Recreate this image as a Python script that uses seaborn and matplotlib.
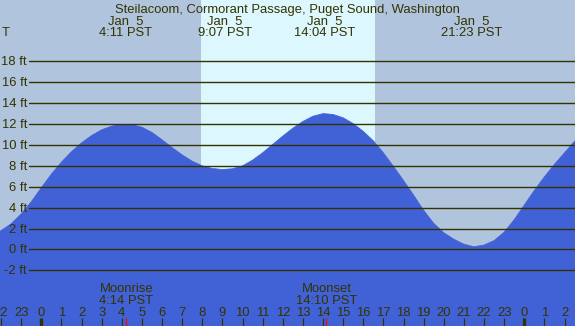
import matplotlib
matplotlib.use("Agg")
import matplotlib.pyplot as plt
import matplotlib.transforms as mtransforms
import seaborn as sns
import pandas as pd

# ---------------- data ----------------
title = "Steilacoom, Cormorant Passage, Puget Sound, Washington"

tide_hours = [-2.05, -1.5, -1.0, -0.5, 0.0, 0.5, 1.0, 1.5, 2.0, 2.5, 3.0, 3.5, 4.0,
              4.5, 5.0, 5.5, 6.0, 6.5, 7.0, 7.5, 8.0, 8.5, 9.0, 9.5, 10.0, 10.5,
              11.0, 11.5, 12.0, 12.5, 13.0, 13.5, 14.0, 14.5, 15.0, 15.5, 16.0, 16.5,
              17.0, 17.5, 18.0, 18.5, 19.0, 19.5, 20.0, 20.5, 21.0, 21.5, 22.0,
              22.5, 23.0, 23.5, 24.0, 24.5, 25.0, 25.5, 26.0, 26.52]
tide_ft = [1.74, 2.45, 3.4, 4.55, 5.9, 7.2, 8.35, 9.35, 10.2, 10.9, 11.45, 11.8, 11.97,
           11.95, 11.7, 11.2, 10.5, 9.75, 9.05, 8.45, 8.0, 7.75, 7.65, 7.72, 8.0, 8.55,
           9.25, 10.05, 10.85, 11.6, 12.25, 12.75, 13.0, 12.92, 12.6, 12.05, 11.3, 10.4,
           9.25, 7.95, 6.6, 5.2, 3.75, 2.5, 1.6, 0.98, 0.5, 0.26, 0.42,
           0.85, 1.65, 2.85, 4.25, 5.65, 6.95, 8.15, 9.25, 10.4]

extreme_hours = [4.18, 9.12, 14.07, 21.38]
extreme_dates = ["Jan  5", "Jan  5", "Jan  5", "Jan  5"]
extreme_times = ["4:11 PST", "9:07 PST", "14:04 PST", "21:23 PST"]

moon_hours = [4.23, 14.17]
moon_names = ["Moonrise", "Moonset"]
moon_times = ["4:14 PST", "14:10 PST"]

sunrise_hour = 7.94
sunset_hour = 16.58

ytick_values = [-2, 0, 2, 4, 6, 8, 10, 12, 14, 16, 18]
hour_ticks = list(range(-2, 27))
hour_labels = [str(h % 24) for h in hour_ticks]

# ---------------- style ----------------
W, H = 575, 326
night = "#b0c4de"
day = "#ddf7ff"
water = "#4161d7"
ink = "#333300"

sns.set_theme(style="white")
plt.rcParams["font.family"] = ["Liberation Sans", "DejaVu Sans"]
fs = 9.4

fig = plt.figure(figsize=(W / 100, H / 100), dpi=100)
ax = fig.add_axes([0, 0, 1, 1])
ax.set_facecolor(night)
fig.patch.set_facecolor(night)

ax.axvspan(sunrise_hour, sunset_hour, color=day, lw=0, zorder=0)

df = pd.DataFrame({"hour": tide_hours, "ft": tide_ft})
sns.lineplot(data=df, x="hour", y="ft", ax=ax, color=water, lw=0.5, zorder=2)
ax.fill_between(df["hour"], df["ft"], -20, color=water, lw=0, zorder=2)

ax.set_xlim(-2.05, 26.52)
ax.set_ylim(-7.33, 23.87)
ax.set(xticks=[], yticks=[], xlabel="", ylabel="")
for s in ax.spines.values():
    s.set_visible(False)

ty = mtransforms.blended_transform_factory(ax.transAxes, ax.transData)
tx = mtransforms.blended_transform_factory(ax.transData, ax.transAxes)
down1 = mtransforms.ScaledTranslation(0, -1 / 100, fig.dpi_scale_trans)

for v in ytick_values:
    ax.axhline(v, xmin=29 / W, xmax=1, color=ink, lw=1.0, zorder=3)
    ax.text(27 / W, v, f"{v} ft", transform=ty + down1, ha="right", va="center",
            fontsize=fs, color=ink, zorder=4)


def fy(py):
    return 1 - (py + 1.5) / H


ax.text(0.5, fy(8), title, transform=ax.transAxes, ha="center", va="center",
        fontsize=fs, color=ink)
ax.text(2 / W, fy(31), "T", transform=ax.transAxes, ha="left", va="center",
        fontsize=fs, color=ink)
for h, d, t in zip(extreme_hours, extreme_dates, extreme_times):
    ax.text(h, fy(20.5), d, transform=tx, ha="center", va="center", fontsize=fs, color=ink)
    ax.text(h, fy(31), t, transform=tx, ha="center", va="center", fontsize=fs, color=ink)

for h, n, t in zip(moon_hours, moon_names, moon_times):
    ax.text(h, fy(287.5), n, transform=tx, ha="center", va="center", fontsize=fs, color=ink, zorder=5)
    ax.text(h, fy(299.5), t, transform=tx, ha="center", va="center", fontsize=fs, color=ink, zorder=5)
    ax.vlines(h, 0, 8 / H, transform=tx, color="red", lw=0.9, zorder=5)

for h, lab in zip(hour_ticks, hour_labels):
    ax.text(h, fy(312), lab, transform=tx, ha="center", va="center", fontsize=fs, color=ink, zorder=5)
    lw = 2.4 if h % 24 == 0 else 0.9
    ax.vlines(h, 0, 8 / H, transform=tx, color=ink, lw=lw, zorder=5)

fig.savefig("out.png", dpi=100, facecolor=night)
